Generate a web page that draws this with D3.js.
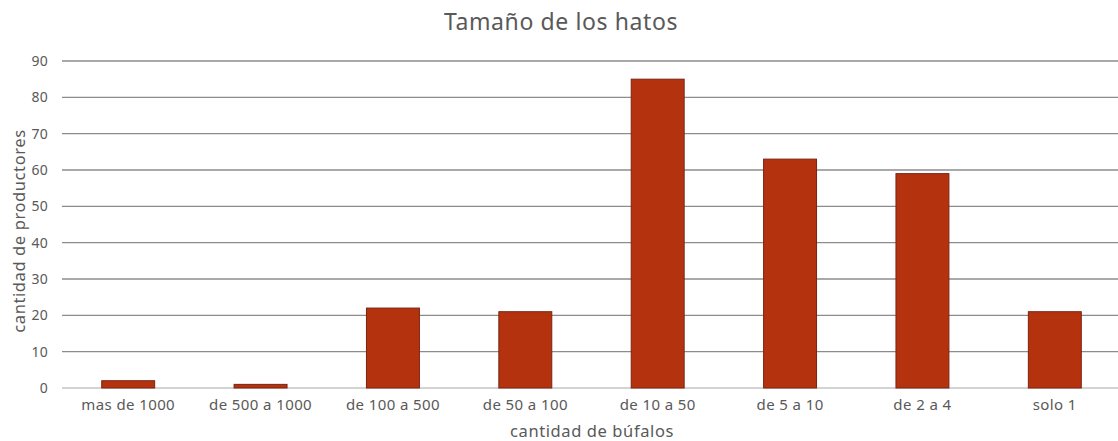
<!DOCTYPE html>
<html><head><meta charset="utf-8">
<script src="https://cdn.jsdelivr.net/npm/d3@7"></script>
<style>body{margin:0;background:#fff;} svg{display:block;} text{font-family:"Noto Sans",sans-serif;fill:#595959;}</style>
</head><body>
<svg id="c" width="1118" height="441"></svg>
<script>
const categories = ["mas de 1000","de 500 a 1000","de 100 a 500","de 50 a 100","de 10 a 50","de 5 a 10","de 2 a 4","solo 1"];
const values = [2,1,22,21,85,63,59,21];
const yTicks = [0,10,20,30,40,50,60,70,80,90];
const title = "Tamaño de los hatos";
const xTitle = "cantidad de búfalos";
const yTitle = "cantidad de productores";

(function(){
const svg = d3.select("#c");
const mL = 62, mR = 1121, mT = 61, mB = 388;
const x = d3.scaleBand().domain(categories).range([mL, mR]).paddingInner(0.6).paddingOuter(0.3);
const y = d3.scaleLinear().domain([0,90]).range([mB, mT]);

const grid = svg.append("g");
grid.selectAll("line").data(yTicks).join("line")
  .attr("x1", mL).attr("x2", 1118)
  .attr("y1", d=>y(d)).attr("y2", d=>y(d))
  .attr("stroke", d=>d===0?"#c4c4c4":"#8c8c8c").attr("stroke-width", 1.3);

const yAxis = d3.axisLeft(y).tickValues(yTicks).tickSize(0).tickPadding(14);
const ya = svg.append("g").attr("transform",`translate(${mL},0)`).call(yAxis);
ya.select(".domain").remove();
ya.selectAll("text").attr("font-size",14).attr("fill","#595959").style("font-family","'Noto Sans',sans-serif").style("letter-spacing","0.3px");

svg.append("g").selectAll("rect").data(values).join("rect")
  .attr("x",(d,i)=>x(categories[i])).attr("width",x.bandwidth())
  .attr("y",d=>y(d)).attr("height",d=>y(0)-y(d))
  .attr("fill","#b5320f").attr("stroke","#7a2410").attr("stroke-width",1);

const xAxis = d3.axisBottom(x).tickSize(0).tickPadding(11);
const xa = svg.append("g").attr("transform",`translate(0,${mB})`).call(xAxis);
xa.select(".domain").remove();
xa.selectAll("text").attr("font-size",15).attr("fill","#595959").style("font-family","'Noto Sans',sans-serif").style("letter-spacing","0.4px");

svg.append("text").attr("x",561).attr("y",30).attr("text-anchor","middle").attr("font-size",23).style("letter-spacing","0.6px").text(title);
svg.append("text").attr("x",592).attr("y",437).attr("text-anchor","middle").attr("font-size",16.5).style("letter-spacing","0.6px").text(xTitle);
svg.append("text").attr("transform",`translate(25,231) rotate(-90)`).attr("text-anchor","middle").attr("font-size",16.5).style("letter-spacing","0.6px").text(yTitle);
})();
</script>
</body></html>
